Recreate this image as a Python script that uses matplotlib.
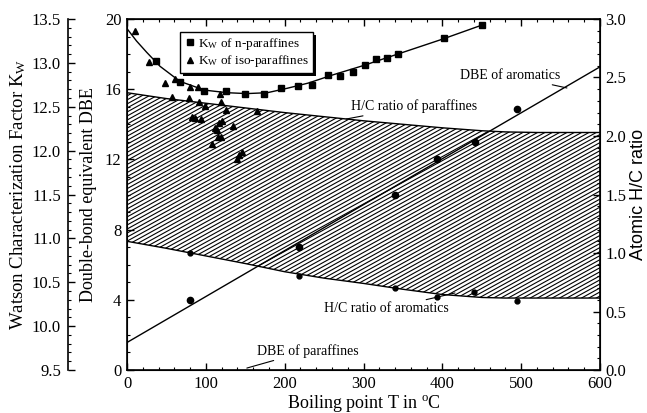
import numpy as np
import matplotlib
matplotlib.use('Agg')
import matplotlib.pyplot as plt
from matplotlib.ticker import MultipleLocator, FormatStrFormatter
from matplotlib.collections import LineCollection
from matplotlib import patheffects

plt.rcParams['font.family'] = ['Liberation Serif', 'DejaVu Serif']
plt.rcParams['mathtext.fontset'] = 'custom'
plt.rcParams['mathtext.rm'] = 'Liberation Serif'
plt.rcParams['mathtext.it'] = 'Liberation Serif:italic'

# Watson K of n-paraffines (boiling point, K_W)
npar_T = [37, 67, 98, 126, 150, 174, 195, 217, 235, 255, 270, 287, 302, 316, 330, 344, 402, 450]
npar_kw = [13.02, 12.78, 12.68, 12.68, 12.65, 12.65, 12.71, 12.74, 12.75, 12.86, 12.85, 12.90,
           12.98, 13.04, 13.06, 13.10, 13.28, 13.43]
# smooth trend through n-paraffines
npar_fit_T = [0, 12, 25, 42, 67, 98, 127, 152, 178, 203, 230, 260, 300, 350, 400, 450]
npar_fit_kw = [13.39, 13.25, 13.12, 12.96, 12.79, 12.69, 12.66, 12.65, 12.66, 12.71, 12.77,
               12.86, 12.97, 13.12, 13.27, 13.43]

# Watson K of iso-paraffines
iso_T = [10, 28, 48, 61, 80, 90, 118, 57, 79, 91, 99, 119, 126, 165, 83, 86, 94, 121, 117,
         135, 112, 114, 115, 119, 108, 146, 142, 140]
iso_kw = [13.36, 13.01, 12.77, 12.82, 12.73, 12.73, 12.65, 12.61, 12.60, 12.55, 12.51, 12.55,
          12.46, 12.45, 12.38, 12.37, 12.36, 12.34, 12.31, 12.28, 12.26, 12.24, 12.15, 12.16,
          12.08, 11.98, 11.95, 11.90]

# DBE of aromatics
arom_T = [80, 218, 340, 393, 441, 495]
arom_dbe = [4.0, 7.0, 10.0, 12.0, 13.0, 14.9]

# H/C ratio of aromatics (points)
hc_arom_T = [80, 218, 340, 393, 440, 495]
hc_arom = [1.00, 0.80, 0.70, 0.625, 0.665, 0.59]

# band limits: H/C of paraffines (upper) and of aromatics (lower)
band_T = [0, 50, 100, 150, 200, 250, 300, 350, 400, 450, 480, 520, 600]
hc_par_line = [2.37, 2.32, 2.28, 2.24, 2.20, 2.165, 2.13, 2.10, 2.07, 2.045, 2.035, 2.03, 2.03]
hc_arom_line = [1.10, 1.04, 0.975, 0.91, 0.84, 0.785, 0.74, 0.69, 0.645, 0.62, 0.615, 0.615, 0.615]

fig = plt.figure(figsize=(6.47, 4.13), dpi=100)
ax = fig.add_axes([0.1963, 0.1041, 0.7311, 0.8499])
ax_k = ax.twinx()
ax_h = ax.twinx()

# --- DBE axis (main) ---
ax.set_xlim(0, 600)
ax.set_ylim(0, 20)
ax.xaxis.set_major_locator(MultipleLocator(100))
ax.xaxis.set_minor_locator(MultipleLocator(20))
ax.yaxis.set_major_locator(MultipleLocator(4))
ax.yaxis.set_minor_locator(MultipleLocator(1))
ax.tick_params(which='both', direction='in', top=True, right=False, labelsize=12, pad=4)
ax.tick_params(which='major', length=5, width=1)
ax.tick_params(which='minor', length=2.5, width=0.8)
for s in ax.spines.values():
    s.set_linewidth(1.2)

fitc = np.polyfit(arom_T, arom_dbe, 1)
line_T = np.array([0, 600])
ax.plot(line_T, np.polyval(fitc, line_T), color='black', lw=1)
ax.plot(arom_T, arom_dbe, 'o', color='black', ms=4.5)

ax.set_xlabel('Boiling point T in $^{\\mathrm{o}}$C', fontsize=13)
ax.xaxis.set_label_coords(0.5, -0.066)
ax.set_ylabel('Double-bond equivalent DBE', fontsize=13)
ax.yaxis.set_label_coords(-0.063, 0.5)

# --- Watson K axis (outer left) ---
ax_k.set_ylim(9.5, 13.5)
ax_k.yaxis.tick_left()
ax_k.yaxis.set_label_position('left')
ax_k.spines['left'].set_position(('axes', -0.1247))
ax_k.spines['left'].set_linewidth(1.2)
for side in ['right', 'top', 'bottom']:
    ax_k.spines[side].set_visible(False)
ax_k.yaxis.set_major_locator(MultipleLocator(0.5))
ax_k.yaxis.set_minor_locator(MultipleLocator(0.1))
ax_k.yaxis.set_major_formatter(FormatStrFormatter('%.1f'))
ax_k.tick_params(which='both', direction='in', labelsize=12, pad=5)
ax_k.tick_params(which='major', length=5, width=1)
ax_k.tick_params(which='minor', length=2.5, width=0.8)
ax_k.set_ylabel('Watson Characterization Factor K$_{\\mathrm{W}}$', fontsize=13.5)
ax_k.yaxis.set_label_coords(-0.21, 0.5)

ax_k.plot(npar_fit_T, npar_fit_kw, color='black', lw=1)
ax_k.plot(npar_T, npar_kw, 's', color='black', ms=4.2, label='K$_{\\mathrm{W}}$ of n-paraffines')
ax_k.plot(iso_T, iso_kw, '^', color='black', ms=4.8, label='K$_{\\mathrm{W}}$ of iso-paraffines')
leg = ax_k.legend(loc='upper left', bbox_to_anchor=(0.112, 0.963), frameon=True, fancybox=False,
                  edgecolor='black', framealpha=1, fontsize=9.5, handletextpad=0.2,
                  borderpad=0.3, labelspacing=0.1, handlelength=0.9, borderaxespad=0)
leg.get_frame().set_linewidth(1.0)
leg.get_frame().set_path_effects([
    patheffects.SimplePatchShadow(offset=(2, -2), shadow_rgbFace='black', alpha=1),
    patheffects.Normal()])

# --- H/C axis (right) ---
ax_h.set_ylim(0, 3)
ax_h.yaxis.set_major_locator(MultipleLocator(0.5))
ax_h.yaxis.set_minor_locator(MultipleLocator(0.1))
ax_h.yaxis.set_major_formatter(FormatStrFormatter('%.1f'))
ax_h.tick_params(which='both', direction='in', labelsize=12, pad=4)
ax_h.tick_params(which='major', length=5, width=1)
ax_h.tick_params(which='minor', length=2.5, width=0.8)
ax_h.set_ylabel('Atomic H/C ratio', fontsize=13, family=['Liberation Sans', 'DejaVu Sans'])
ax_h.yaxis.set_label_coords(1.063, 0.5)

band = ax_h.fill_between(band_T, hc_arom_line, hc_par_line, facecolor='none', edgecolor='none', lw=0)
offs = np.arange(-0.76, 1.0, 0.0115)
segs = [[(0, c), (1, c + 0.741)] for c in offs]
hatch = LineCollection(segs, colors='black', linewidths=0.8, transform=ax_h.transAxes)
hatch.set_clip_path(band.get_paths()[0], ax_h.transData)
ax_h.add_collection(hatch, autolim=False)
ax_h.plot(band_T, hc_par_line, color='black', lw=1)
ax_h.plot(band_T, hc_arom_line, color='black', lw=1)
ax_h.plot(hc_arom_T, hc_arom, 'o', color='black', ms=3.5)

# annotations (DBE coordinates)
arw = dict(arrowstyle='-', lw=0.8, color='black', shrinkA=0, shrinkB=0)
ax.annotate('DBE of aromatics', xy=(558, 16.07), xytext=(549, 16.41), fontsize=10,
            ha='right', va='bottom', arrowprops=arw)
ax.annotate('H/C ratio of paraffines', xy=(278, 14.30), xytext=(284, 14.64), fontsize=10,
            ha='left', va='bottom', arrowprops=arw)
ax.annotate('H/C ratio of aromatics', xy=(416, 4.39), xytext=(408, 3.85), fontsize=10,
            ha='right', va='top', arrowprops=arw)
ax.annotate('DBE of paraffines', xy=(152, 0.11), xytext=(165, 0.7), fontsize=10,
            ha='left', va='bottom', arrowprops=arw)

fig.savefig('out.png', dpi=100)
